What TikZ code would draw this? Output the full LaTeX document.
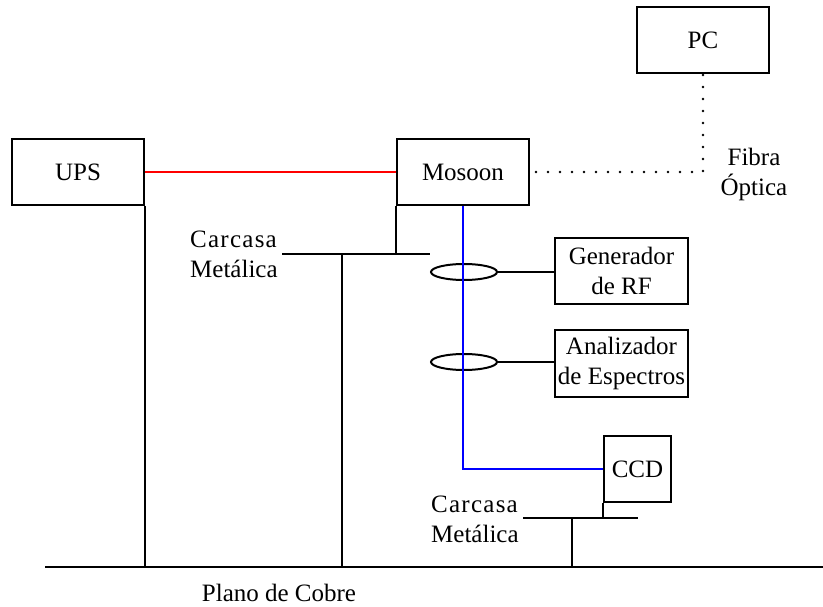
\documentclass[tikz,border=0pt]{standalone}
\usepackage{fontspec}
\setmainfont{Liberation Serif}
\usetikzlibrary{shapes.geometric}
\begin{document}
\begin{tikzpicture}[x=1pt,y=-1pt,
  every node/.style={font=\fontsize{25}{30}\selectfont, inner sep=0pt},
  box/.style={draw, line width=2pt, align=center},
  wire/.style={line width=2pt},
  ring/.style={draw, ellipse, line width=2pt, minimum width=66pt, minimum height=16pt},
  lbl/.style={align=left, anchor=west}]
\useasboundingbox (0,0) rectangle (823,607);
% boxes
\node[box, minimum width=132pt, minimum height=66pt] (ups) at (78,172) {UPS};
\node[box, minimum width=132pt, minimum height=66pt] (mos) at (463,172) {Mosoon};
\node[box, minimum width=132pt, minimum height=66pt] (pc) at (703,40) {PC};
\node[box, minimum width=133pt, minimum height=66pt] (gen) at (621.5,271) {Generador\\de RF};
\node[box, minimum width=133pt, minimum height=67pt] (ana) at (621.5,363.5) {Analizador\\de Espectros};
\node[box, minimum width=67pt, minimum height=66pt] (ccd) at (637.5,469) {CCD};
% rings
\node[ring] (r1) at (464,272) {};
\node[ring] (r2) at (464,362) {};
% labels
\node[lbl] (lab1) at (190,254) {{\addfontfeature{LetterSpace=5}Carcasa}\\Metálica};
\node[lbl] (lab2) at (431,519) {{\addfontfeature{LetterSpace=5}Carcasa}\\Metálica};
\node[align=center] (fib) at (754,174) {Fibra\\Óptica};
\node (plano) at (279,593) {Plano de Cobre};
% coordinates
\coordinate (c1l) at (282,254);
\coordinate (c1r) at (430,254);
\coordinate (c1m) at (342,254);
\coordinate (c2l) at (523,518);
\coordinate (c2r) at (638,518);
\coordinate (c2m) at (572,518);
\coordinate (gl) at (45,567);
\coordinate (gr) at (823,567);
% wires
\draw[wire] (gl) -- (gr);
\draw[wire] (ups.south east) -- (ups.south east |- gl);
\draw[wire] (c1l) -- (c1r);
\draw[wire] (mos.south west) -- (mos.south west |- c1l);
\draw[wire] (c1m) -- (c1m |- gl);
\draw[wire] (c2l) -- (c2r);
\draw[wire] (ccd.south west) -- (ccd.south west |- c2l);
\draw[wire] (c2m) -- (c2m |- gl);
\draw[wire] (r1.east) -- (r1.east -| gen.west);
\draw[wire] (r2.east) -- (r2.east -| ana.west);
\draw[line width=2pt, red] (ups.east) -- (mos.west);
\draw[line width=2pt, blue] (mos.south) |- (ccd.west);
\draw[line width=2.6pt, line cap=round, dash pattern=on 0pt off 12pt, dash phase=6pt] (mos.east) -| (pc.south);
\end{tikzpicture}
\end{document}
